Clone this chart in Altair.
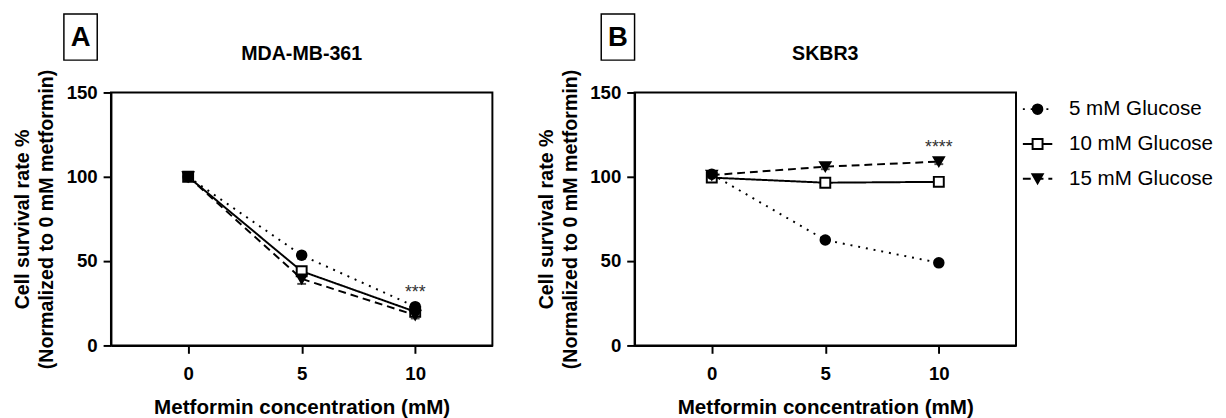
import altair as alt
import pandas as pd

# ---------------- data ----------------
conc = [0, 5, 10]
series = ["5 mM Glucose", "10 mM Glucose", "15 mM Glucose"]

# Panel A: MDA-MB-361
a_5 = [100, 53.5, 23]
a_10 = [100, 44, 20]
a_15 = [100, 39.5, 18]
a_err_5 = [0.5, 2, 1.5]
a_err_10 = [0.5, 2, 1.5]
a_err_15 = [0.5, 3, 2]

# Panel B: SKBR3
b_5 = [101.5, 62.5, 49]
b_10 = [99.5, 96.5, 97]
b_15 = [101, 106, 109]
b_err_5 = [1, 1.5, 1.5]
b_err_10 = [0.8, 1.5, 1.5]
b_err_15 = [0.8, 1.5, 1.5]

y_ticks = [0, 50, 100, 150]
x_ticks = [0, 5, 10]

sig_a = ["***"]
sig_a_y = [31]
sig_b = ["****"]
sig_b_y = [117]

FONT = "Liberation Sans"


def make_df(v5, v10, v15, e5, e10, e15):
    rows = []
    for k, (name, vals, errs) in enumerate([(series[1], v10, e10), (series[0], v5, e5), (series[2], v15, e15)]):
        for c, v, e in zip(conc, vals, errs):
            rows.append({"conc": c, "value": v, "lo": v - e, "hi": v + e, "series": name, "ord": k})
    return pd.DataFrame(rows)


df_a = make_df(a_5, a_10, a_15, a_err_5, a_err_10, a_err_15)
df_b = make_df(b_5, b_10, b_15, b_err_5, b_err_10, b_err_15)

W, H = 389, 258

x_scale = alt.Scale(domain=[-3.4, 13.4], nice=False, zero=False)
y_scale = alt.Scale(domain=[0, 150], nice=False)

x_enc = alt.X(
    "conc:Q",
    scale=x_scale,
    axis=alt.Axis(
        values=x_ticks, title="Metformin concentration (mM)", grid=False,
        tickSize=8, tickWidth=2, domainWidth=2, domainColor="black", tickColor="black",
        labelFontSize=19, labelFontWeight="bold", labelColor="black", labelFont=FONT,
        labelPadding=12, titleFontSize=21, titleFontWeight="bold", titleFont=FONT,
        titleColor="black", titlePadding=13,
    ),
)
y_enc = alt.Y(
    "value:Q",
    scale=y_scale,
    axis=alt.Axis(
        values=y_ticks, title=["Cell survival rate %", "(Normalized to 0 mM metformin)"],
        grid=False, tickSize=8, tickWidth=2, domainWidth=2, domainColor="black",
        tickColor="black", labelFontSize=19, labelFontWeight="bold", labelColor="black",
        labelFont=FONT, labelPadding=6, titleFontSize=20, titleFontWeight="bold",
        titleFont=FONT, titleColor="black", titlePadding=10, titleLineHeight=24,
    ),
)

dash_scale = alt.Scale(domain=series, range=[[2, 6], [1, 0], [8, 5]])
shape_scale = alt.Scale(domain=series, range=["circle", "square", "triangle-down"])
fill_scale = alt.Scale(domain=series, range=["black", "white", "black"])
size_scale = alt.Scale(domain=series, range=[95, 110, 110])


def make_panel(df, title, letter, sig_text, sig_y, letter_dx):
    base = alt.Chart(df)
    lines = base.mark_line(color="black", strokeWidth=2).encode(
        x=x_enc, y=y_enc,
        strokeDash=alt.StrokeDash("series:N", scale=dash_scale, legend=None),
    )
    err_rule = base.mark_rule(color="black", strokeWidth=2).encode(
        x=alt.X("conc:Q"), y=alt.Y("lo:Q"), y2="hi:Q",
    )
    cap_lo = base.mark_tick(color="black", orient="horizontal", size=9, thickness=2).encode(
        x=alt.X("conc:Q"), y=alt.Y("lo:Q"),
    )
    cap_hi = base.mark_tick(color="black", orient="horizontal", size=9, thickness=2).encode(
        x=alt.X("conc:Q"), y=alt.Y("hi:Q"),
    )
    pts = base.mark_point(filled=True, stroke="black", strokeWidth=2, opacity=1).encode(
        x="conc:Q", y="value:Q",
        shape=alt.Shape("series:N", scale=shape_scale, legend=None),
        fill=alt.Fill("series:N", scale=fill_scale, legend=None),
        size=alt.Size("series:N", scale=size_scale, legend=None),
        order=alt.Order("ord:Q"),
    )
    sig = alt.Chart(pd.DataFrame({"conc": [10], "value": sig_y, "t": sig_text})).mark_text(
        fontSize=18, color="#333333", font=FONT, baseline="middle"
    ).encode(x="conc:Q", y="value:Q", text="t:N")
    lab_df = pd.DataFrame({"t": [letter], "title": [title]})
    box = alt.Chart(lab_df).mark_rect(fill="white", stroke="black", strokeWidth=1.5).encode(
        x=alt.value(letter_dx), x2=alt.value(letter_dx + 34),
        y=alt.value(-80), y2=alt.value(-33),
    )
    let = alt.Chart(lab_df).mark_text(
        fontSize=28, fontWeight="bold", font=FONT, color="black", baseline="middle", align="center"
    ).encode(x=alt.value(letter_dx + 17), y=alt.value(-55), text="t:N")
    ttl = alt.Chart(lab_df).mark_text(
        fontSize=20, fontWeight="bold", font=FONT, color="black", baseline="middle", align="center"
    ).encode(x=alt.value(W / 2), y=alt.value(-39), text="title:N")
    return alt.layer(lines, err_rule, cap_lo, cap_hi, pts, sig, box, let, ttl).properties(
        width=W, height=H,
        view=alt.ViewBackground(stroke="black", strokeWidth=2),
    )


panel_a = make_panel(df_a, "MDA-MB-361", "A", sig_a, sig_a_y, -48)
panel_b = make_panel(df_b, "SKBR3", "B", sig_b, sig_b_y, -34)

# ------------- legend panel -------------
leg_df = pd.DataFrame({"series": series})
leg_y = alt.Y("series:N", axis=None, sort=series,
              scale=alt.Scale(type="point", domain=series, range=[17, 88], padding=0))
leg_base = alt.Chart(leg_df)
leg_lines = leg_base.mark_rule(color="black", strokeWidth=2).encode(
    x=alt.value(0), x2=alt.value(30), y=leg_y,
    strokeDash=alt.StrokeDash("series:N", scale=dash_scale, legend=None),
)
leg_pts = leg_base.mark_point(filled=True, stroke="black", strokeWidth=2, opacity=1).encode(
    x=alt.value(15), y=leg_y,
    shape=alt.Shape("series:N", scale=shape_scale, legend=None),
    fill=alt.Fill("series:N", scale=fill_scale, legend=None),
    size=alt.Size("series:N", scale=size_scale, legend=None),
)
leg_txt = leg_base.mark_text(align="left", baseline="middle", fontSize=21, font=FONT,
                             color="black").encode(
    x=alt.value(47), y=leg_y, text="series:N",
)
legend = alt.layer(leg_lines, leg_pts, leg_txt).properties(
    width=170, height=H, view=alt.ViewBackground(stroke="transparent")
)

right = alt.hconcat(panel_b, legend, spacing=4).resolve_scale(
    x="independent", y="independent"
)
chart = alt.hconcat(panel_a, right, spacing=43).resolve_scale(
    x="independent", y="independent"
).configure(
    padding={"top": 0, "left": 4, "right": 4, "bottom": 4}, background="white"
)

chart.save("out.html", embed_options={"renderer": "svg", "actions": False})
